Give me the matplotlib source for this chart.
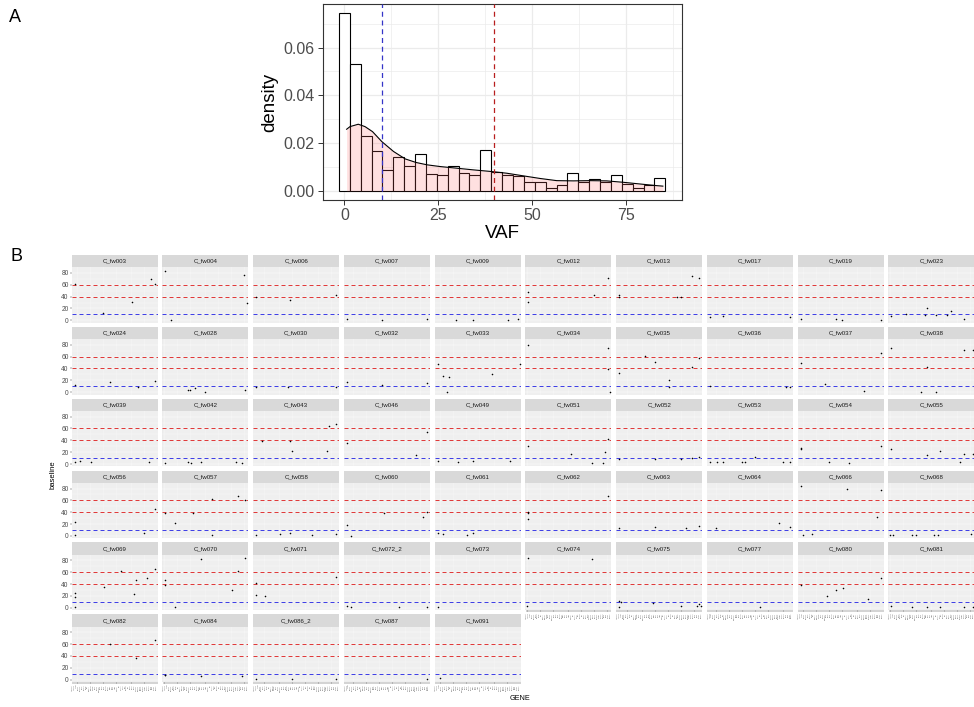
import numpy as np
import matplotlib
matplotlib.use("Agg")
import matplotlib.pyplot as plt

plt.rcParams['font.family'] = ['Liberation Sans', 'DejaVu Sans']

# ---------------- Panel A: VAF distribution ----------------
hist_density = [0.0744, 0.0530, 0.0230, 0.0167, 0.0088, 0.0141, 0.0103, 0.0153,
                0.0071, 0.0066, 0.0103, 0.0075, 0.0066, 0.0170, 0.0078, 0.0066,
                0.0064, 0.0036, 0.0036, 0.0013, 0.0024, 0.0074, 0.0039, 0.0050,
                0.0036, 0.0066, 0.0031, 0.0014, 0.0025, 0.0052]
bin_width = 2.9

kde_vaf = [0.6, 1.5, 3.7, 5.5, 7.5, 10, 13.1, 16.2, 19.1, 22.1, 25.5, 30, 34.4,
           39.3, 43.3, 47.7, 52.2, 56.6, 61, 65.5, 69.9, 74.4, 78.8, 83.3, 84.9]
kde_density = [0.0258, 0.0269, 0.0279, 0.0269, 0.0248, 0.0206, 0.0165, 0.0134,
               0.0119, 0.0109, 0.0102, 0.0095, 0.0088, 0.0081, 0.0074, 0.0063,
               0.0052, 0.0043, 0.0042, 0.0043, 0.0042, 0.0036, 0.0029, 0.0022,
               0.0020]

low_cut = 10
mid_cut = 40
high_cut = 60

# ---------------- Panel B: per-sample variants ----------------
genes = ["ARID1A", "ASXL1", "ATM", "BCOR", "BCORL1", "BRAF", "BRCC3", "CALR",
         "CBL", "CEBPA", "CHEK2", "CSF3R", "CUX1", "DDX41", "DNMT3A", "ETV6",
         "EZH2", "FLT3", "GATA2", "GNAS", "GNB1", "IDH1", "IDH2", "JAK2",
         "KDM6A", "KIT", "KMT2A", "KRAS", "MPL", "MYD88", "NF1", "NPM1",
         "NRAS", "PHF6", "PPM1D", "PTPN11", "RAD21", "RUNX1", "SETBP1", "SF3B1",
         "SRSF2", "STAG2", "TET2", "TP53", "U2AF1", "ZRSR2"]

samples = ["C_fw003", "C_fw004", "C_fw006", "C_fw007", "C_fw009", "C_fw012", "C_fw013", "C_fw017", "C_fw019", "C_fw023",
           "C_fw024", "C_fw028", "C_fw030", "C_fw032", "C_fw033", "C_fw034", "C_fw035", "C_fw036", "C_fw037", "C_fw038",
           "C_fw039", "C_fw042", "C_fw043", "C_fw046", "C_fw049", "C_fw051", "C_fw052", "C_fw053", "C_fw054", "C_fw055",
           "C_fw056", "C_fw057", "C_fw058", "C_fw060", "C_fw061", "C_fw062", "C_fw063", "C_fw064", "C_fw066", "C_fw068",
           "C_fw069", "C_fw070", "C_fw071", "C_fw072_2", "C_fw073", "C_fw074", "C_fw075", "C_fw077", "C_fw080", "C_fw081",
           "C_fw082", "C_fw084", "C_fw086_2", "C_fw087", "C_fw091"]

hit_genes = [
    ["ASXL1", "EZH2", "NRAS", "TET2", "U2AF1"],
    ["ASXL1", "BCORL1", "TP53", "ZRSR2"],
    ["ASXL1", "GNAS", "U2AF1"],
    ["ASXL1", "GNB1", "U2AF1"],
    ["CSF3R", "GNB1", "SF3B1", "U2AF1"],
    ["ASXL1", "ASXL1", "RAD21", "U2AF1"],
    ["ASXL1", "ASXL1", "NRAS", "PPM1D", "SRSF2", "U2AF1"],
    ["ASXL1", "CBL", "U2AF1"],
    ["ASXL1", "GNB1", "JAK2", "U2AF1"],
    ["ASXL1", "CEBPA", "GNAS", "GNB1", "KIT", "NPM1", "PHF6", "SRSF2"],
    ["ASXL1", "GNB1", "PTPN11", "U2AF1"],
    ["DDX41", "DNMT3A", "FLT3", "IDH2", "U2AF1"],
    ["ASXL1", "GATA2", "U2AF1"],
    ["ASXL1", "GNB1", "U2AF1"],
    ["ASXL1", "BCORL1", "CALR", "BRCC3", "NF1", "ZRSR2"],
    ["ASXL1", "U2AF1", "U2AF1", "ZRSR2"],
    ["ASXL1", "ETV6", "GNB1", "MPL", "MPL", "SRSF2", "U2AF1"],
    ["ASXL1", "TET2", "U2AF1"],
    ["ASXL1", "DNMT3A", "PTPN11", "U2AF1"],
    ["ASXL1", "GNB1", "FLT3", "KIT", "SRSF2", "ZRSR2"],
    ["ASXL1", "BCORL1", "CHEK2", "STAG2"],
    ["ASXL1", "DDX41", "ETV6", "GNB1", "SF3B1", "TET2"],
    ["BCORL1", "GNAS", "GNB1", "SF3B1", "SRSF2", "U2AF1"],
    ["ASXL1", "SETBP1", "U2AF1"],
    ["ASXL1", "CUX1", "GNB1", "SRSF2"],
    ["ASXL1", "KDM6A", "PTPN11", "STAG2", "TET2", "U2AF1"],
    ["ASXL1", "GNB1", "PPM1D", "SRSF2", "U2AF1"],
    ["ASXL1", "BRAF", "CBL", "GATA2", "GNB1", "KIT", "SRSF2", "U2AF1"],
    ["ASXL1", "ASXL1", "EZH2", "KRAS", "U2AF1"],
    ["ASXL1", "GNB1", "KRAS", "SETBP1", "SRSF2", "ZRSR2"],
    ["ASXL1", "ASXL1", "SETBP1", "U2AF1"],
    ["ASXL1", "BRCC3", "EZH2", "KMT2A", "KMT2A", "SRSF2", "U2AF1"],
    ["ASXL1", "DNMT3A", "GNAS", "NPM1", "U2AF1"],
    ["ASXL1", "BCOR", "IDH1", "TET2", "U2AF1"],
    ["ASXL1", "BCORL1", "FLT3", "GNB1"],
    ["ASXL1", "ASXL1", "ASXL1", "U2AF1"],
    ["ASXL1", "GNB1", "RUNX1", "U2AF1"],
    ["BCORL1", "SETBP1", "U2AF1"],
    ["ASXL1", "ATM", "CALR", "KMT2A", "TET2", "U2AF1"],
    ["ARID1A", "ATM", "CUX1", "DNMT3A", "KDM6A", "KMT2A", "U2AF1"],
    ["ASXL1", "ASXL1", "ASXL1", "FLT3", "KMT2A", "PHF6", "PPM1D", "SRSF2", "U2AF1"],
    ["ASXL1", "ASXL1", "BRCC3", "GNB1", "RUNX1", "SRSF2", "U2AF1"],
    ["ASXL1", "ASXL1", "BRCC3", "U2AF1"],
    ["ASXL1", "BCOR", "MYD88", "U2AF1"],
    ["ASXL1"],
    ["ARID1A", "ASXL1", "PTPN11"],
    ["ASXL1", "ATM", "ASXL1", "GNAS", "PPM1D", "TP53", "U2AF1", "ZRSR2"],
    ["MPL"],
    ["ASXL1", "ETV6", "GNB1", "KDM6A", "RUNX1", "U2AF1"],
    ["ASXL1", "CUX1", "GNB1", "KRAS", "SRSF2", "ZRSR2"],
    ["GNB1", "PPM1D", "U2AF1"],
    ["ASXL1", "ASXL1", "GNB1", "TET2"],
    ["ASXL1", "GNB1", "U2AF1"],
    ["U2AF1"],
    ["ATM"],
]

hit_vafs = [
    [62, 12.5, 31, 70, 61],
    [84, 0.5, 76, 30],
    [39, 35, 42],
    [2, 1, 2],
    [1, 1, 1, 2],
    [48, 31, 43, 71],
    [42, 40, 40, 38.6, 75, 72],
    [5, 7, 6],
    [2, 2, 1, 1],
    [7.4, 10, 9, 20, 9, 9, 15, 2],
    [12.6, 16.6, 8.6, 19.4],
    [3.4, 3.4, 7.4, 1, 4],
    [8, 8, 8],
    [17.7, 12.6, 15],
    [47, 28, 25, 1, 30, 47],
    [80, 74, 39, 0.5],
    [32, 61, 51, 21, 8.6, 43, 58],
    [11, 8, 8],
    [50, 14, 2, 66],
    [74, 42, 1, 1, 72, 71],
    [3.4, 4.5, 3, 3],
    [2, 3, 2, 3.4, 3, 2],
    [38.6, 38.6, 22, 22, 65, 67],
    [36, 14.7, 54],
    [4.5, 3.4, 4.5, 4.5],
    [30.6, 17.6, 1.7, 1.7, 21, 43],
    [9, 8, 8, 9.6, 12],
    [4, 4, 3.4, 4, 3.4, 12, 4, 4],
    [27, 25, 4, 1.7, 31],
    [25.5, 14.7, 21.5, 3.4, 17, 17],
    [23, 1.7, 4.6, 45],
    [39, 21, 38.6, 62, 1, 67, 60],
    [2.3, 3, 5, 1.7, 3],
    [19, 0.3, 38, 31.6, 41],
    [5, 4, 1, 5],
    [41, 39, 29, 68],
    [14, 15.5, 14, 17],
    [14, 22.4, 15.5],
    [84.6, 1.7, 3.4, 79, 32, 77],
    [1.7, 1.7, 1.7, 1.7, 1.7, 1.7, 3],
    [0.5, 18.7, 25, 35.2, 62.4, 23.8, 47, 51, 64.7],
    [47.7, 38, 1, 82.8, 29.5, 61.3, 84.5],
    [41.4, 22, 20, 52.2],
    [2.3, 0.6, 0.6, 1],
    [0.6],
    [2.3, 84.5, 82],
    [11.3, 10.2, 1.1, 7.9, 2.3, 2.3, 6.2, 2.3],
    [1],
    [37.6, 19.9, 30, 32.6, 14.2, 50.5],
    [2.3, 0.6, 1, 0.6, 1, 1],
    [60.7, 35.7, 67],
    [7.4, 8.5, 5.7, 5.7],
    [1, 1, 1],
    [1],
    [2],
]

# ---------------- figure ----------------
W, H = 974, 707


def box(left, top, width, height):
    """Pixel box (from top-left) -> figure fraction rectangle."""
    return [left / W, 1 - (top + height) / H, width / W, height / H]


fig = plt.figure(figsize=(W / 100, H / 100), dpi=100)
fig.patch.set_facecolor('white')

fig.text(15 / W, 1 - 18 / H, 'A', fontsize=13, ha='center', va='center')
fig.text(17 / W, 1 - 256 / H, 'B', fontsize=13, ha='center', va='center')

# ---- Panel A ----
axA = fig.add_axes(box(323, 4, 359, 196))
centers = np.arange(len(hist_density)) * bin_width
axA.bar(centers, hist_density, width=bin_width, facecolor='white',
        edgecolor='black', linewidth=0.8, zorder=2)
axA.fill_between(kde_vaf, 0, kde_density, color='#FF6666', alpha=0.2,
                 linewidth=0, zorder=3)
axA.plot(kde_vaf, kde_density, color='black', lw=0.8, zorder=4)
axA.axvline(low_cut, color='#3535c8', ls=(0, (4, 3)), lw=0.9, zorder=5)
axA.axvline(mid_cut, color='#b81e1e', ls=(0, (4, 3)), lw=0.9, zorder=5)

axA.set_xlim(-5.7, 90)
axA.set_ylim(-0.0038, 0.0782)
axA.set_xticks([0, 25, 50, 75])
axA.set_xticks([12.5, 37.5, 62.5, 87.5], minor=True)
axA.set_yticks([0, 0.02, 0.04, 0.06])
axA.set_yticklabels(['0.00', '0.02', '0.04', '0.06'])
axA.set_yticks([0.01, 0.03, 0.05, 0.07], minor=True)
axA.grid(which='major', color='#ebebeb', lw=0.9)
axA.grid(which='minor', color='#ebebeb', lw=0.5)
axA.set_axisbelow(True)
axA.tick_params(which='major', direction='out', length=3.5, width=0.7,
                color='#333333', labelcolor='#4d4d4d', labelsize=11.5, pad=2.5)
axA.tick_params(which='minor', length=0)
for s in axA.spines.values():
    s.set_color('#333333')
    s.set_linewidth(0.8)
axA.set_xlabel('VAF', fontsize=13.5, labelpad=1)
axA.set_ylabel('density', fontsize=13.5, labelpad=4)

# ---- Panel B ----
ncol = 10
n = len(samples)
gpos = np.arange(len(genes))
col_left0, col_pitch, pan_w = 71.7, 90.75, 86
row_top0, row_pitch = 255, 71.86
strip_h, pan_h = 12.3, 55.4
dash = (0, (4, 3))

for k, name in enumerate(samples):
    r, c = divmod(k, ncol)
    left = col_left0 + c * col_pitch
    top = row_top0 + r * row_pitch

    sax = fig.add_axes(box(left, top, pan_w, strip_h))
    sax.set_facecolor('#d9d9d9')
    sax.set_xticks([])
    sax.set_yticks([])
    for s in sax.spines.values():
        s.set_visible(False)
    sax.text(0.5, 0.5, name, ha='center', va='center', fontsize=4.4,
             color='#1a1a1a', transform=sax.transAxes)

    ax = fig.add_axes(box(left, top + strip_h, pan_w, pan_h))
    ax.set_facecolor('#ebebeb')
    ax.set_xlim(-0.6, len(genes) - 0.4)
    ax.set_ylim(-4, 89.5)
    ax.set_xticks(gpos)
    ax.set_yticks([0, 20, 40, 60, 80])
    ax.set_yticks([10, 30, 50, 70], minor=True)
    ax.grid(which='major', color='white', lw=0.35)
    ax.grid(which='minor', axis='y', color='white', lw=0.18)
    ax.set_axisbelow(True)
    for s in ax.spines.values():
        s.set_visible(False)

    for yv, col in ((low_cut, '#4040e6'), (mid_cut, '#e03a3a'), (high_cut, '#e03a3a')):
        ln = ax.axhline(yv, color=col, ls=dash, lw=0.72, zorder=3)
        ln.set_snap(True)

    xs = [genes.index(g) for g in hit_genes[k]]
    ax.scatter(xs, hit_vafs[k], s=1.3, color='black', linewidths=0, zorder=4)

    ax.tick_params(which='minor', length=0)
    is_bottom = k + ncol >= n
    if is_bottom:
        ax.set_xticklabels(genes, rotation=90, fontsize=1.2, color='#4d4d4d')
        ax.tick_params(axis='x', length=1.5, width=0.3, color='#333333', pad=0.6)
    else:
        ax.tick_params(axis='x', length=0, labelbottom=False)
    if c == 0:
        ax.tick_params(axis='y', length=1.5, width=0.3, color='#333333',
                       labelsize=4.8, labelcolor='#4d4d4d', pad=0.8)
    else:
        ax.tick_params(axis='y', length=0, labelleft=False)

fig.text(53 / W, 1 - 475 / H, 'baseline', rotation=90, fontsize=5.5,
         ha='center', va='center')
fig.text(520 / W, 1 - 699 / H, 'GENE', fontsize=5.2, ha='center', va='center')

fig.savefig('out.png', dpi=100, facecolor='white')
